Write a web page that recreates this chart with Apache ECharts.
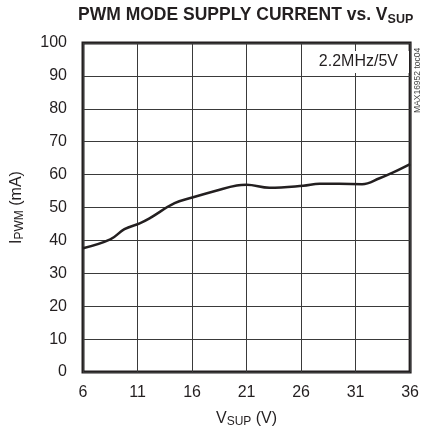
<!DOCTYPE html>
<html>
<head>
<meta charset="utf-8">
<script src="https://cdn.jsdelivr.net/npm/echarts@6/dist/echarts.min.js"></script>
<style>
  html, body { margin: 0; padding: 0; background: #fff; }
  #main { width: 422px; height: 434px; }
</style>
</head>
<body>
<div id="main"></div>
<script>
// 数据
const vsup = [6, 8.5, 9.8, 11.2, 12.1, 14.4, 16.1, 18.2, 20.1, 21, 23.1, 26.2, 27.7, 29.5, 31.6, 33.2, 34.4, 36]
const ipwm = [37.6, 40.3, 43.4, 45.2, 46.7, 51.3, 53.1, 55.1, 56.7, 56.9, 56.0, 56.6, 57.2, 57.2, 57.1, 58.9, 60.6, 63.2]
const xTicks = [6, 11, 16, 21, 26, 31, 36]
const yTicks = [0, 10, 20, 30, 40, 50, 60, 70, 80, 90, 100]

const font = '"Liberation Sans Narrow", "Liberation Sans", Arial, sans-serif'
const myChart = echarts.init(document.querySelector('#main'))

const option = {
  animation: false,
  title: {
    text: '{t|PWM MODE SUPPLY CURRENT vs. V}{s|SUP}',
    left: 78,
    top: 5,
    padding: 0,
    textStyle: {
      rich: {
        t: { fontFamily: font, fontWeight: 'bold', fontSize: 17.5, color: '#231f20' },
        s: { fontFamily: font, fontWeight: 'bold', fontSize: 12.5, color: '#231f20', padding: [8, 0, 0, 0] }
      }
    }
  },
  grid: {
    left: 83,
    right: 11,
    top: 43,
    bottom: 62,
    show: true,
    borderColor: '#231f20',
    borderWidth: 3,
    containLabel: false
  },
  xAxis: {
    type: 'value',
    min: 6,
    max: 36,
    interval: 5,
    axisLine: { show: false },
    axisTick: { show: false },
    splitLine: { lineStyle: { color: '#3a3a3a', width: 1 } },
    axisLabel: {
      fontFamily: font,
      fontSize: 16,
      color: '#231f20',
      margin: 13,
      formatter: v => xTicks.includes(v) ? v : ''
    },
    name: '{a|V}{b|SUP}{a| (V)}',
    nameLocation: 'middle',
    nameGap: 38,
    nameTextStyle: {
      rich: {
        a: { fontFamily: font, fontSize: 16, color: '#231f20' },
        b: { fontFamily: font, fontSize: 12, color: '#231f20', padding: [6, 0, 0, 0] }
      }
    }
  },
  yAxis: {
    type: 'value',
    min: 0,
    max: 100,
    interval: 10,
    axisLine: { show: false },
    axisTick: { show: false },
    splitLine: { lineStyle: { color: '#3a3a3a', width: 1 } },
    axisLabel: {
      fontFamily: font,
      fontSize: 16,
      color: '#231f20',
      margin: 16,
      formatter: v => yTicks.includes(v) ? v : ''
    },
    name: '{a|I}{b|PWM}{a| (mA)}',
    nameLocation: 'middle',
    nameGap: 57,
    nameRotate: 90,
    nameTextStyle: {
      rich: {
        a: { fontFamily: font, fontSize: 16, color: '#231f20' },
        b: { fontFamily: font, fontSize: 12, color: '#231f20', padding: [6, 0, 0, 0] }
      }
    }
  },
  graphic: [
    {
      type: 'rect',
      z: 10,
      shape: { x: 318, y: 51, width: 91, height: 22 },
      style: { fill: '#fff' }
    },
    {
      type: 'text',
      z: 11,
      x: 398,
      y: 62,
      style: { text: '2.2MHz/5V', font: '16px ' + font, fill: '#231f20', align: 'right', verticalAlign: 'middle' }
    },
    {
      type: 'text',
      x: 418,
      y: 113,
      rotation: Math.PI / 2,
      style: { text: 'MAX16952 toc04', font: '8.5px ' + font, fill: '#444', align: 'left', verticalAlign: 'middle' }
    }
  ],
  series: [
    {
      type: 'line',
      data: vsup.map((v, i) => [v, ipwm[i]]),
      smooth: 0.4,
      showSymbol: false,
      lineStyle: { color: '#231f20', width: 2.5 }
    }
  ]
}
myChart.setOption(option)
</script>
</body>
</html>
